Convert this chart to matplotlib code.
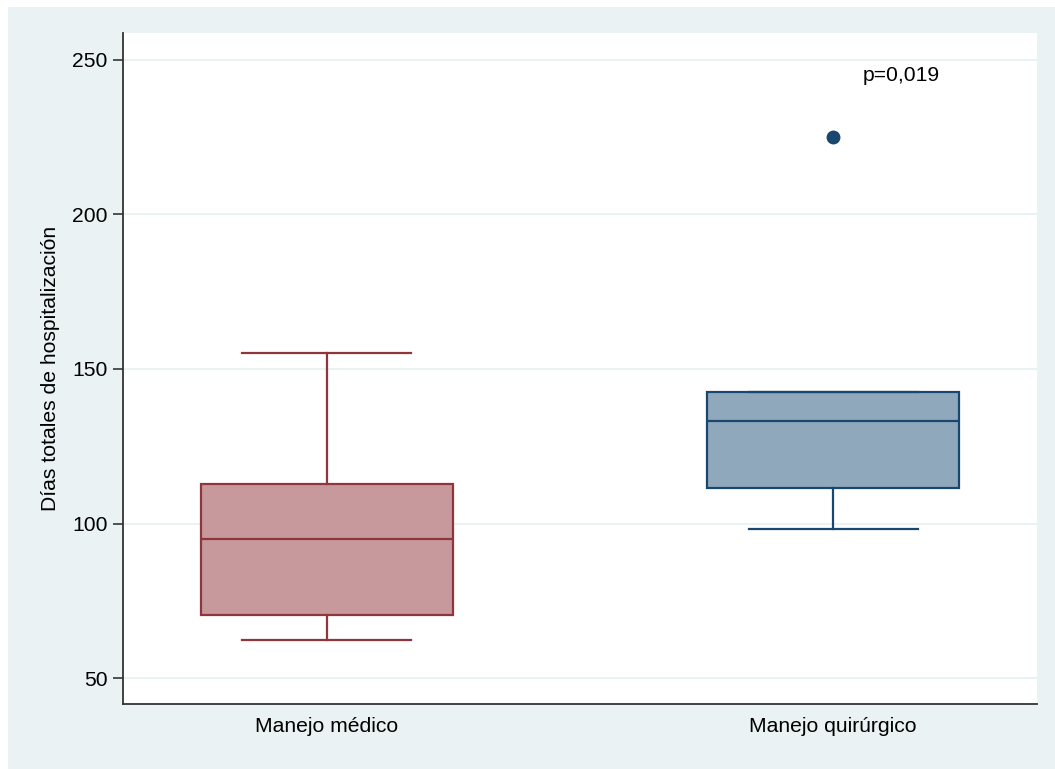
import matplotlib
matplotlib.use("Agg")
import matplotlib.pyplot as plt
from matplotlib.patches import Rectangle

categories = ["Manejo médico", "Manejo quirúrgico"]
q1 = [70.4, 111.5]
med = [95.0, 133.2]
q3 = [112.8, 142.6]
whislo = [62.3, 98.2]
whishi = [155.2, 142.6]
outliers = [[], [225.1]]
yticks = [50, 100, 150, 200, 250]
p_text = "p=0,019"

fills = ["#C8999C", "#90A8BC"]
edges = ["#90353B", "#1A476F"]

plt.rcParams['font.family'] = ['Liberation Sans', 'DejaVu Sans']
FS = 15.2

fig = plt.figure(figsize=(10.55, 7.69), dpi=100, facecolor="white")
fig.patches.append(Rectangle((8/1055, 0), 1 - 8/1055, 1 - 7/769,
                             transform=fig.transFigure, facecolor="#EAF2F3",
                             edgecolor="none", zorder=-10))
ax = fig.add_axes([123/1055, 1 - 704/769, (1037-123)/1055, (704-33)/769])
ax.set_zorder(1)
ax.set_facecolor("white")

for i in range(2):
    st = [dict(med=med[i], q1=q1[i], q3=q3[i], whislo=whislo[i], whishi=whishi[i],
               fliers=outliers[i], label=categories[i])]
    c = edges[i]
    ax.bxp(st, positions=[i + 1], widths=0.498, patch_artist=True, showfliers=True,
           boxprops=dict(facecolor=fills[i], edgecolor=c, linewidth=1.6),
           medianprops=dict(color=c, linewidth=1.6),
           whiskerprops=dict(color=c, linewidth=1.6),
           capprops=dict(color=c, linewidth=1.6),
           capwidths=0.334,
           flierprops=dict(marker="o", markerfacecolor=c, markeredgecolor=c, markersize=9))

ax.set_xlim(0.597, 2.403)
ax.set_ylim(41.6, 258.7)
ax.set_yticks(yticks)
ax.set_yticklabels([str(t) for t in yticks])
ax.set_xticks([1, 2])
ax.set_xticklabels(categories)
ax.grid(axis="y", color="#EAF2F3", linewidth=1.5)
ax.set_axisbelow(True)
for s in ["top", "right"]:
    ax.spines[s].set_visible(False)
for s in ["left", "bottom"]:
    ax.spines[s].set_color("#333333")
    ax.spines[s].set_linewidth(1.3)
ax.tick_params(axis="y", direction="out", length=7, width=1.3, color="#444444",
               labelsize=FS, pad=4)
ax.tick_params(axis="x", length=0, labelsize=FS, pad=9)
ax.set_ylabel("Días totales de hospitalización", fontsize=FS, labelpad=9)
ax.text(2.059, 245.1, p_text, fontsize=FS, va="center", ha="left")

fig.savefig("out.png", dpi=100, facecolor=fig.get_facecolor())
